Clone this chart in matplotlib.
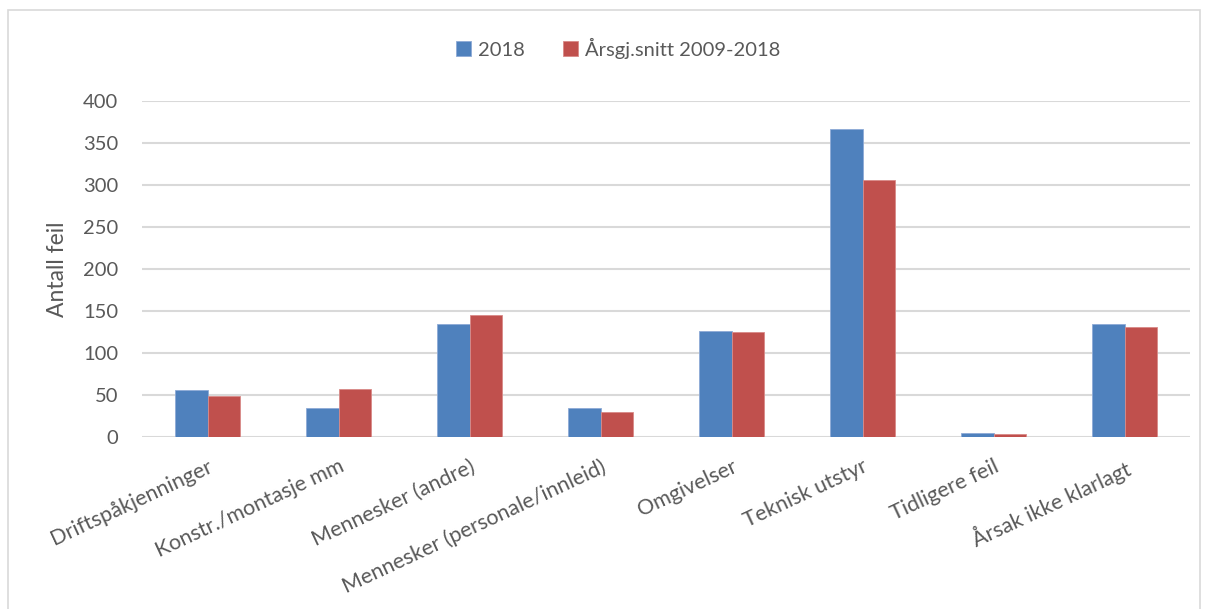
import numpy as np
import matplotlib.pyplot as plt
from matplotlib.patches import Rectangle

kategorier = ["Driftspåkjenninger", "Konstr./montasje mm", "Mennesker (andre)",
              "Mennesker (personale/innleid)", "Omgivelser", "Teknisk utstyr",
              "Tidligere feil", "Årsak ikke klarlagt"]
verdier_2018 = [56, 34, 134, 34, 126, 367, 5, 135]
verdier_snitt = [49, 57, 145, 30, 125, 306, 3.5, 131]
y_ticks = [0, 50, 100, 150, 200, 250, 300, 350, 400]

plt.rcParams['font.family'] = ['Lato', 'DejaVu Sans']
tekstfarge = '#595959'

fig = plt.figure(figsize=(12.08, 6.09), dpi=100)
# chart frame
fig.patches.append(Rectangle((8 / 1208, -0.01), 1192 / 1208, (609 - 10) / 609 + 0.01,
                             transform=fig.transFigure, fill=False,
                             edgecolor='#d9d9d9', linewidth=1.2))
ax = fig.add_axes([142 / 1208, 1 - 437 / 609, (1190 - 142) / 1208, (437 - 101) / 609])

x = np.arange(len(kategorier))
w = 0.25
ax.bar(x - w / 2, verdier_2018, w, color='#4f81bd', edgecolor='#8eaad6', linewidth=0.6,
       label='2018', zorder=3)
ax.bar(x + w / 2, verdier_snitt, w, color='#c0504d', edgecolor='#d98a88', linewidth=0.6,
       label='Årsgj.snitt 2009-2018', zorder=3)

ax.set_xlim(-0.5, len(kategorier) - 0.5)
ax.set_ylim(0, 400)
ax.set_yticks(y_ticks)
ax.yaxis.grid(True, color='#d9d9d9', linewidth=1.5, zorder=0)
ax.set_axisbelow(True)
for s in ax.spines.values():
    s.set_visible(False)
ax.tick_params(axis='both', length=0, colors=tekstfarge)
ax.tick_params(axis='y', pad=17, labelsize=14.5)
ax.set_xticks(x)
ax.set_xticklabels(kategorier, rotation=25, ha='right', rotation_mode='anchor')
ax.tick_params(axis='x', pad=14, labelsize=15.5)
ax.set_ylabel('Antall feil', fontsize=16.5, color=tekstfarge)
ax.yaxis.set_label_coords(-0.071, 0.5)

fig.legend(loc='center', bbox_to_anchor=(618 / 1208, 1 - 48 / 609), ncol=2, frameon=False,
           fontsize=14.5, handlelength=0.75, handleheight=0.75, handletextpad=0.35,
           columnspacing=1.9, labelcolor=tekstfarge)

plt.savefig('out.png', dpi=100)
